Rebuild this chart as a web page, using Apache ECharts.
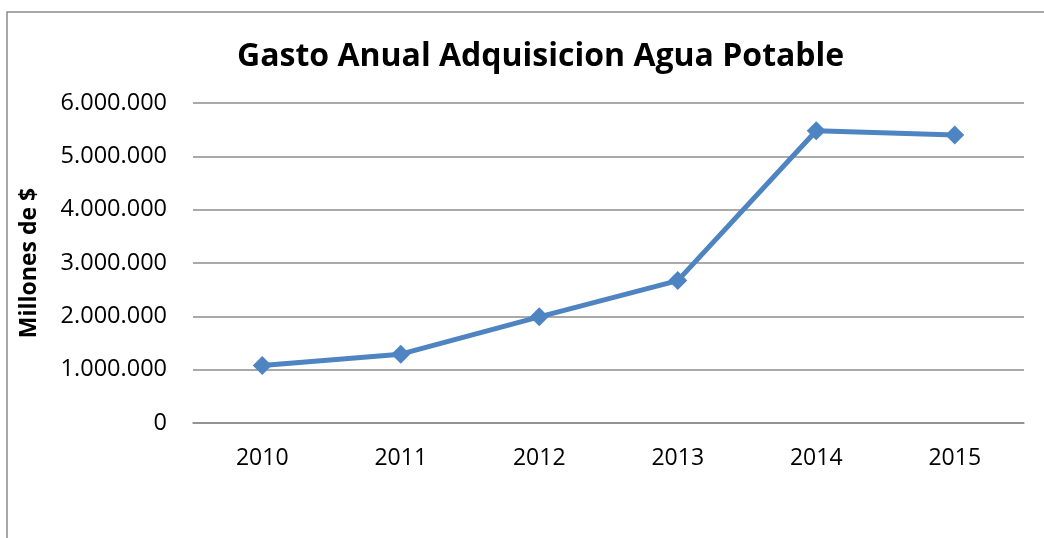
<!DOCTYPE html>
<html>
<head>
<meta charset="utf-8">
<script src="https://cdn.jsdelivr.net/npm/echarts@6/dist/echarts.min.js"></script>
<style>
  html, body { margin: 0; padding: 0; background: #fff; }
  #chart { width: 1044px; height: 538px; }
</style>
</head>
<body>
<div id="chart"></div>
<script>
// datos
var years = ['2010', '2011', '2012', '2013', '2014', '2015'];
var gasto = [1077000, 1290000, 1990000, 2670000, 5480000, 5400000];
var titulo = 'Gasto Anual Adquisicion Agua Potable';
var ejeY = 'Millones de $';

function miles(v) {
    return String(v).replace(/\B(?=(\d{3})+(?!\d))/g, '.');
}

var myChart = echarts.init(document.getElementById('chart'));
var chartOption = {
    backgroundColor: '#fff',
    animation: false,
    title: {
        text: titulo,
        left: 232,
        top: 36,
        textStyle: {
            fontFamily: 'Open Sans',
            fontWeight: 'bold',
            fontSize: 32,
            color: '#000'
        }
    },
    grid: {
        left: 193,
        right: 20,
        top: 103,
        bottom: 115
    },
    xAxis: {
        type: 'category',
        data: years,
        axisLine: { lineStyle: { color: '#8c8c8c', width: 1.5 } },
        axisTick: { show: false },
        axisLabel: {
            margin: 24,
            fontFamily: 'Open Sans',
            fontSize: 23,
            color: '#000'
        }
    },
    yAxis: {
        type: 'value',
        min: 0,
        max: 6000000,
        interval: 1000000,
        name: ejeY,
        nameLocation: 'middle',
        nameGap: 152,
        nameTextStyle: {
            fontFamily: 'Open Sans',
            fontWeight: 'bold',
            fontSize: 23,
            color: '#000'
        },
        axisLine: { show: false },
        axisTick: { show: false },
        axisLabel: {
            margin: 26,
            fontFamily: 'Open Sans',
            fontSize: 23.5,
            color: '#000',
            formatter: miles
        },
        splitLine: { lineStyle: { color: '#8c8c8c', width: 1.5 } }
    },
    series: [{
        name: 'Gasto',
        type: 'line',
        data: gasto,
        symbol: 'diamond',
        symbolSize: 19,
        lineStyle: { color: '#4e84c1', width: 5 },
        itemStyle: { color: '#4e84c1' }
    }],
    graphic: [
        {
            type: 'polyline',
            shape: { points: [[7, 538], [7, 12], [1044, 12]] },
            style: { stroke: '#8c8c8c', lineWidth: 1.5, fill: null }
        }
    ]
};
myChart.setOption(chartOption);
</script>
</body>
</html>
